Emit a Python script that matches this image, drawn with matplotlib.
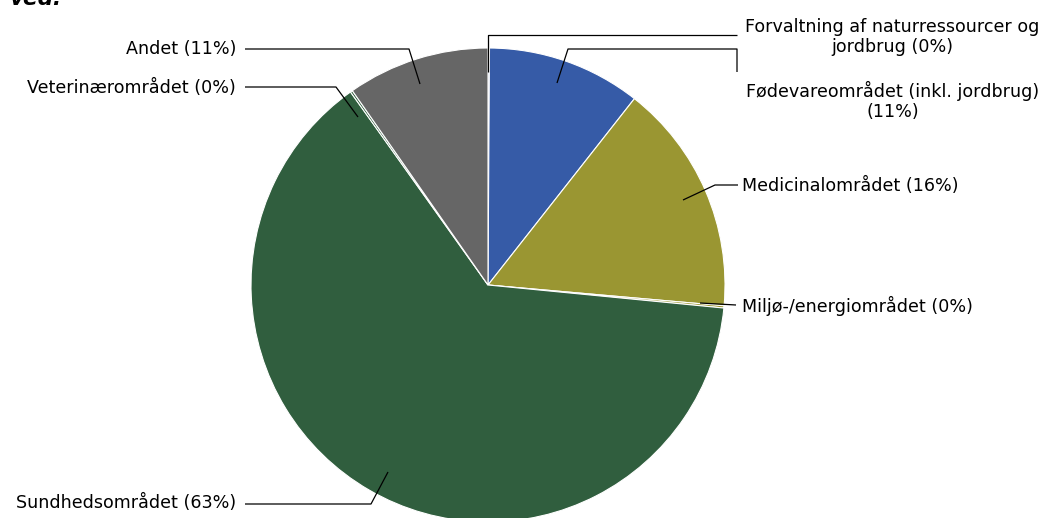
import matplotlib
matplotlib.use("Agg")
import matplotlib.pyplot as plt

# slice shares, clockwise from 12 o'clock
labels = [
    "Forvaltning af naturressourcer og\njordbrug (0%)",
    "Fødevareområdet (inkl. jordbrug)\n(11%)",
    "Medicinalområdet (16%)",
    "Miljø-/energiområdet (0%)",
    "Sundhedsområdet (63%)",
    "Veterinærområdet (0%)",
    "Andet (11%)",
]
shares = [0.1, 10.5, 15.8, 0.15, 63.6, 0.15, 9.7]
colors = ["#365ba7", "#365ba7", "#9a9632", "#9a9632", "#305e3e", "#305e3e", "#666666"]

W, H = 1048, 518
fig = plt.figure(figsize=(W / 100, H / 100), dpi=100)
ax = fig.add_axes([0, 0, 1, 1])

def py(y):
    # pixel row -> data y
    return H - y

cx, cy, r = 488, py(285), 237
ax.pie(shares, colors=colors, startangle=90, counterclock=False,
       center=(cx, cy), radius=r, frame=True,
       wedgeprops=dict(edgecolor="white", linewidth=0.8))
ax.set_xlim(0, W)
ax.set_ylim(0, H)
ax.set_aspect("equal")
ax.axis("off")

# leader lines (pixel coords) and label anchors
leaders = [
    [(488, 72), (488, 35), (737, 35)],
    [(557, 83), (568, 49), (737, 49), (737, 72)],
    [(683, 200), (715, 185), (738, 185)],
    [(700, 303), (736, 305)],
    [(388, 472), (371, 504), (245, 504)],
    [(358, 117), (336, 87), (245, 87)],
    [(420, 84), (409, 49), (245, 49)],
]
anchors = [
    (892, 37, "center"),
    (893, 101, "center"),
    (742, 186, "left"),
    (742, 306, "left"),
    (236, 503, "right"),
    (236, 88, "right"),
    (236, 49, "right"),
]

for pts, (tx, ty, ha), lab in zip(leaders, anchors, labels):
    xs = [p[0] for p in pts]
    ys = [py(p[1]) for p in pts]
    ax.plot(xs, ys, color="black", lw=0.9, solid_capstyle="butt")
    ax.text(tx, py(ty), lab, ha=ha, va="center", fontsize=12.6,
            multialignment="center", color="black", linespacing=1.2)

ax.text(10, py(5), "ved:", fontsize=15.5, fontweight="bold", fontstyle="italic",
        ha="left", va="baseline")

fig.savefig("out.png", dpi=100)
